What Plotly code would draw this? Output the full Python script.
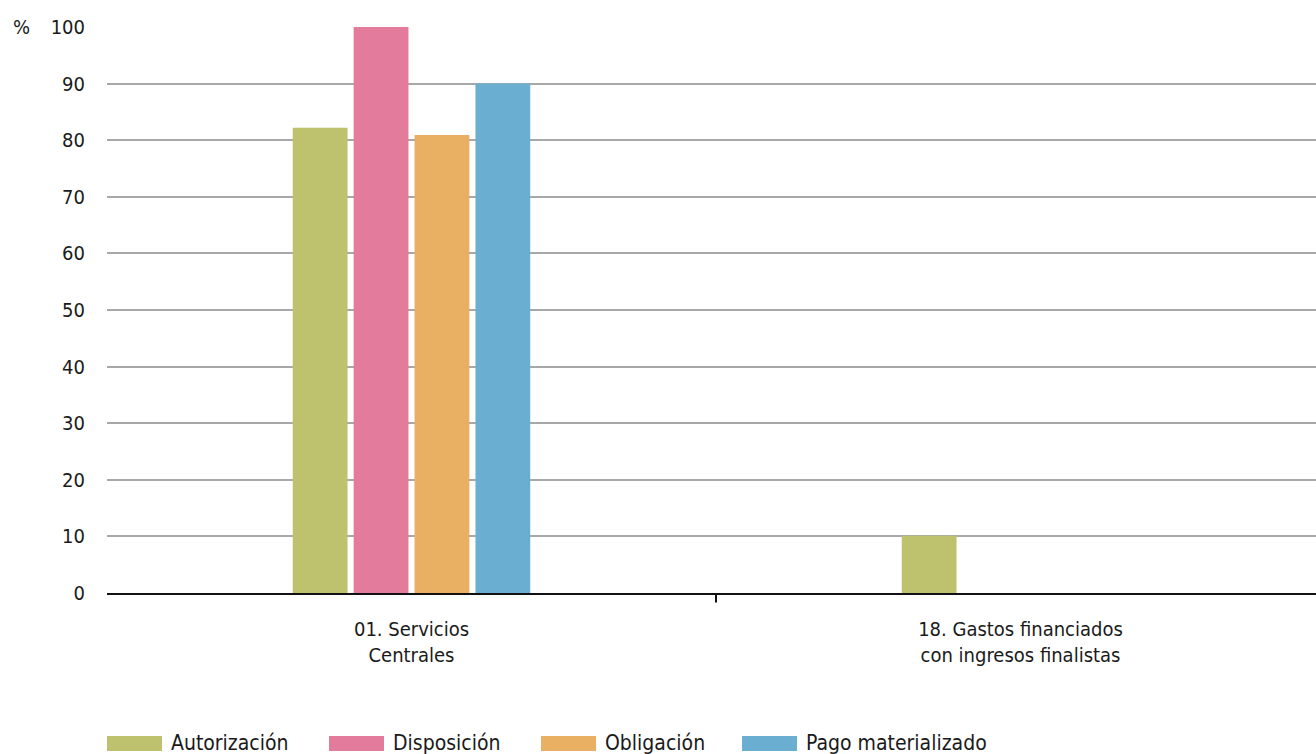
import plotly.graph_objects as go

categories = ["01. Servicios<br>Centrales", "18. Gastos financiados<br>con ingresos finalistas"]
series_names = ["Autorización", "Disposición", "Obligación", "Pago materializado"]
autorizacion = [82.2, 10.1]
disposicion = [100.0, 0.0]
obligacion = [80.9, 0.0]
pago = [90.0, 0.0]
colors = ["#bec26e", "#e27b9c", "#e9af62", "#6aafd2"]
y_ticks = [0, 10, 20, 30, 40, 50, 60, 70, 80, 90, 100]

FONT = "DejaVu Sans Condensed, Liberation Sans Narrow, sans-serif"
W = 1325
PW = W - 107

fig = go.Figure()
for name, vals, col in zip(series_names, [autorizacion, disposicion, obligacion, pago], colors):
    fig.add_trace(go.Bar(x=categories, y=vals, name=name, marker=dict(color=col, line=dict(width=0)),
                         showlegend=False))

fig.update_layout(
    width=W, height=754,
    margin=dict(l=107, r=0, t=27, b=161),
    paper_bgcolor="white", plot_bgcolor="white",
    barmode="group", bargap=0.6, bargroupgap=0.1,
    font=dict(family=FONT, size=20, color="#1a1a1a"),
    xaxis=dict(showgrid=False, showline=True, linecolor="#111", linewidth=2,
               ticks="", tickfont=dict(size=20), ticklabelstandoff=17, fixedrange=True),
    yaxis=dict(range=[0, 100], tickvals=y_ticks, showgrid=True, gridcolor="#a8a8a8", gridwidth=2,
               zeroline=False, showline=False, ticks="", tickfont=dict(size=20),
               ticklabelstandoff=21, fixedrange=True),
)

# category boundary tick
fig.add_shape(type="line", xref="x", yref="paper", x0=0.5, x1=0.5, y0=0, y1=-0.017,
              line=dict(color="#111", width=2))

# % label
fig.add_annotation(text="%", xref="paper", yref="y", x=-75 / PW, y=100, showarrow=False,
                   xanchor="right", font=dict(size=20, family=FONT))

# custom legend
leg_x = [107, 329, 541, 742]
for name, col, lx in zip(series_names, colors, leg_x):
    fig.add_shape(type="rect", xref="paper", yref="paper",
                  x0=(lx - 107) / PW, x1=(lx + 55 - 107) / PW,
                  y0=(593 - 751) / 566, y1=(593 - 736) / 566,
                  fillcolor=col, line=dict(width=0))
    fig.add_annotation(text=name, xref="paper", yref="paper",
                       x=(lx + 62 - 107) / PW, y=(593 - 743) / 566,
                       xanchor="left", yanchor="middle", showarrow=False,
                       font=dict(size=21, family=FONT))

fig.write_html("out.html", config={"displayModeBar": False},
               post_script="document.body.style.margin='0';document.body.style.overflow='hidden';document.documentElement.style.overflow='hidden';")
